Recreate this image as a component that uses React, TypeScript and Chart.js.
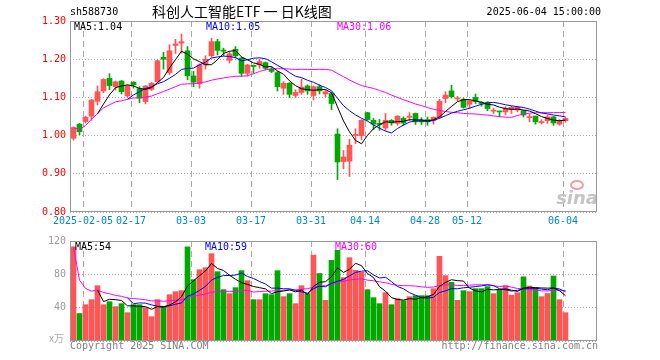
import React, { useEffect, useRef } from 'react';
import { Chart, registerables } from 'chart.js';

Chart.register(...registerables);

const CODE = 'sh588730';
const TITLE = '科创人工智能ETF 一 日K线图';
const TIMESTAMP = '2025-06-04 15:00:00';

const DATES = [
  '2025-01-24', '2025-01-27',
  '2025-02-05', '2025-02-06', '2025-02-07', '2025-02-10', '2025-02-11', '2025-02-12', '2025-02-13', '2025-02-14',
  '2025-02-17', '2025-02-18', '2025-02-19', '2025-02-20', '2025-02-21', '2025-02-24', '2025-02-25', '2025-02-26', '2025-02-27', '2025-02-28',
  '2025-03-03', '2025-03-04', '2025-03-05', '2025-03-06', '2025-03-07', '2025-03-10', '2025-03-11', '2025-03-12', '2025-03-13', '2025-03-14',
  '2025-03-17', '2025-03-18', '2025-03-19', '2025-03-20', '2025-03-21', '2025-03-24', '2025-03-25', '2025-03-26', '2025-03-27', '2025-03-28',
  '2025-03-31', '2025-04-01', '2025-04-02', '2025-04-03', '2025-04-07', '2025-04-08', '2025-04-09', '2025-04-10', '2025-04-11',
  '2025-04-14', '2025-04-15', '2025-04-16', '2025-04-17', '2025-04-18', '2025-04-21', '2025-04-22', '2025-04-23', '2025-04-24', '2025-04-25',
  '2025-04-28', '2025-04-29', '2025-04-30', '2025-05-06', '2025-05-07', '2025-05-08', '2025-05-09',
  '2025-05-12', '2025-05-13', '2025-05-14', '2025-05-15', '2025-05-16', '2025-05-19', '2025-05-20', '2025-05-21', '2025-05-22', '2025-05-23',
  '2025-05-26', '2025-05-27', '2025-05-28', '2025-05-29', '2025-05-30', '2025-06-03', '2025-06-04',
];

const OPEN = [
  0.993, 1.030, 1.037, 1.051, 1.090, 1.117, 1.150, 1.128, 1.143, 1.104,
  1.140, 1.123, 1.089, 1.121, 1.141, 1.205, 1.165, 1.236, 1.242, 1.222,
  1.156, 1.136, 1.185, 1.209, 1.246, 1.224, 1.197, 1.226, 1.203, 1.163,
  1.184, 1.185, 1.191, 1.174, 1.165, 1.124, 1.137, 1.105, 1.113, 1.130,
  1.105, 1.128, 1.109, 1.110, 1.004, 0.932, 0.933, 1.000, 1.000, 1.060,
  1.040, 1.032, 1.020, 1.040, 1.032, 1.045, 1.048, 1.058, 1.040, 1.042,
  1.040, 1.049, 1.097, 1.117, 1.096, 1.095, 1.082, 1.100, 1.087, 1.087,
  1.064, 1.064, 1.062, 1.068, 1.067, 1.065, 1.047, 1.051, 1.034, 1.039,
  1.049, 1.030, 1.039,
];
const HIGH = [
  1.023, 1.032, 1.051, 1.095, 1.130, 1.149, 1.162, 1.143, 1.144, 1.133,
  1.141, 1.128, 1.131, 1.139, 1.197, 1.218, 1.238, 1.252, 1.266, 1.233,
  1.168, 1.188, 1.209, 1.255, 1.252, 1.229, 1.220, 1.233, 1.205, 1.187,
  1.185, 1.200, 1.193, 1.179, 1.168, 1.141, 1.139, 1.120, 1.148, 1.133,
  1.130, 1.133, 1.119, 1.113, 1.018, 0.961, 0.990, 1.018, 1.042, 1.061,
  1.045, 1.042, 1.058, 1.042, 1.052, 1.049, 1.060, 1.059, 1.047, 1.049,
  1.049, 1.095, 1.115, 1.132, 1.103, 1.098, 1.093, 1.109, 1.089, 1.089,
  1.071, 1.064, 1.076, 1.077, 1.077, 1.066, 1.056, 1.051, 1.042, 1.054,
  1.050, 1.042, 1.047,
];
const LOW = [
  0.988, 1.002, 1.033, 1.040, 1.080, 1.112, 1.120, 1.119, 1.109, 1.101,
  1.124, 1.086, 1.083, 1.118, 1.140, 1.174, 1.160, 1.215, 1.216, 1.146,
  1.128, 1.124, 1.174, 1.205, 1.211, 1.209, 1.190, 1.203, 1.155, 1.156,
  1.163, 1.176, 1.172, 1.165, 1.117, 1.108, 1.099, 1.099, 1.108, 1.108,
  1.093, 1.109, 1.102, 1.068, 0.885, 0.913, 0.893, 0.979, 0.989, 1.040,
  1.016, 1.014, 1.014, 1.027, 1.027, 1.027, 1.039, 1.029, 1.029, 1.027,
  1.030, 1.045, 1.086, 1.098, 1.091, 1.072, 1.071, 1.084, 1.077, 1.065,
  1.058, 1.049, 1.055, 1.058, 1.062, 1.049, 1.036, 1.030, 1.030, 1.032,
  1.027, 1.027, 1.035,
];
const CLOSE = [
  1.021, 1.010, 1.048, 1.093, 1.115, 1.147, 1.131, 1.141, 1.115, 1.130,
  1.133, 1.098, 1.130, 1.137, 1.196, 1.200, 1.222, 1.240, 1.246, 1.157,
  1.140, 1.185, 1.200, 1.246, 1.223, 1.221, 1.214, 1.209, 1.163, 1.185,
  1.181, 1.194, 1.176, 1.168, 1.128, 1.137, 1.108, 1.113, 1.127, 1.117,
  1.128, 1.117, 1.115, 1.084, 0.931, 0.944, 0.975, 1.003, 1.040, 1.042,
  1.030, 1.029, 1.040, 1.033, 1.051, 1.033, 1.051, 1.036, 1.036, 1.036,
  1.048, 1.090, 1.106, 1.102, 1.098, 1.074, 1.091, 1.089, 1.084, 1.071,
  1.066, 1.062, 1.071, 1.074, 1.074, 1.054, 1.049, 1.036, 1.036, 1.049,
  1.033, 1.040, 1.045,
];
// volume, unit: 万
const VOLUME = [
  113, 33, 43.6, 49.6, 66.4, 43.6, 47.2, 41.2, 44.8, 34,
  43.6, 43.6, 40, 29.2, 49.6, 41.2, 55.6, 59.2, 60.4, 113,
  73.6, 85.6, 88, 104.8, 83.2, 61.6, 56.8, 64, 84.4, 72.4,
  49.6, 49.6, 56.8, 55.6, 84.4, 53.2, 56.8, 44.8, 66.4, 56.8,
  103, 81, 48.8, 96.8, 108.8, 76, 100, 84.8, 82.4, 61.6,
  52, 44.8, 58, 43.6, 50.8, 48.4, 53.2, 54.4, 54.4, 54.4,
  62.8, 101.6, 78.4, 70.4, 48.8, 60.4, 59.2, 62.8, 62.8, 65.2,
  56.8, 61.6, 66.4, 55, 58, 77, 66, 64, 53.2, 57,
  78, 49.6, 34,
];

const X_TICK_DATES = ['2025-02-05', '2025-02-17', '2025-03-03', '2025-03-17', '2025-03-31', '2025-04-14', '2025-04-28', '2025-05-12', '2025-06-04'];
const X_TICK_LABELS = ['2025-02-05', '02-17', '03-03', '03-17', '03-31', '04-14', '04-28', '05-12', '06-04'];
const PRICE_TICKS = [1.3, 1.2, 1.1, 1.0, 0.9, 0.8];
const VOLUME_TICKS = [120, 80, 40];
const VOLUME_UNIT = 'x万';
const COPYRIGHT = 'Copyright 2025 SINA.COM';
const URL_TEXT = 'http://finance.sina.com.cn';

// ---- styles / layout ----
const RED = '#ff5555';
const GREEN = '#00a800';
const MA5_C = '#000000';
const MA10_C = '#0000ff';
const MA30_C = '#ff00ff';
const GRID_C = '#aaaaaa';
const FRAME_C = '#999999';
const MONO = '"DejaVu Sans Mono", "Liberation Mono", monospace';
const CJK = '"Noto Sans CJK SC", "Noto Sans", sans-serif';
const PLOT_L = 70;
const PLOT_R = 597;
const SLOT = 6;
const X_MIN = -3.5 / SLOT;
const X_MAX = X_MIN + (PLOT_R - PLOT_L) / SLOT;
const GRID_SHIFT = 2.5 / SLOT;

function movingAverage(values: number[], n: number, partial: boolean): (number | null)[] {
  return values.map((_, i) => {
    if (i < n - 1 && !partial) return null;
    const start = Math.max(0, i - n + 1);
    let s = 0;
    for (let k = start; k <= i; k++) s += values[k];
    return s / (i - start + 1);
  });
}
const toPoints = (arr: (number | null)[]) =>
  arr.map((y, x) => (y == null ? null : { x, y })).filter((p) => p !== null) as { x: number; y: number }[];

const candleColors = CLOSE.map((c, i) => (c >= OPEN[i] ? RED : GREEN));
const tickIndices = X_TICK_DATES.map((d) => DATES.indexOf(d));

function xScale(height: number) {
  return {
    type: 'linear' as const,
    min: X_MIN,
    max: X_MAX,
    offset: false,
    ticks: { display: false },
    grid: { color: GRID_C, lineWidth: 1, drawTicks: false, offset: false },
    border: { display: false, dash: [6, 4] },
    afterBuildTicks: (s: any) => {
      s.ticks = tickIndices.map((v) => ({ value: v - GRID_SHIFT }));
    },
    afterFit: (s: any) => {
      s.height = height;
      s.paddingLeft = 0;
      s.paddingRight = 0;
    },
  };
}
function yScale(min: number, max: number, step: number) {
  return {
    type: 'linear' as const,
    min,
    max,
    ticks: { display: false, stepSize: step },
    grid: { color: GRID_C, lineWidth: 1, drawTicks: false },
    border: { display: false, dash: [1, 2] },
    afterFit: (s: any) => {
      s.width = PLOT_L;
      s.paddingTop = 0;
      s.paddingBottom = 0;
    },
  };
}
function lineDs(data: (number | null)[], color: string, order: number) {
  return {
    type: 'line' as const,
    data: toPoints(data),
    borderColor: color,
    borderWidth: 1,
    pointRadius: 0,
    tension: 0,
    order,
  };
}
function frame(ctx: CanvasRenderingContext2D, a: any) {
  ctx.strokeStyle = FRAME_C;
  ctx.lineWidth = 1;
  ctx.setLineDash([]);
  ctx.strokeRect(a.left + 0.5, a.top + 0.5, a.right - a.left - 1, a.bottom - a.top - 1);
}

export default function App() {
  const priceRef = useRef<HTMLCanvasElement>(null);
  const volRef = useRef<HTMLCanvasElement>(null);

  useEffect(() => {
    const ma5 = movingAverage(CLOSE, 5, false);
    const ma10 = movingAverage(CLOSE, 10, false);
    const ma30 = movingAverage(CLOSE, 30, true);
    const vma5 = movingAverage(VOLUME, 5, false);
    const vma10 = movingAverage(VOLUME, 10, false);
    const vma30 = movingAverage(VOLUME, 30, true);
    const last = CLOSE.length - 1;

    const priceText = {
      id: 'priceText',
      beforeDatasetsDraw(chart: any) {
        const { ctx, chartArea: a } = chart;
        ctx.save();
        ctx.strokeStyle = '#f2a0a0';
        ctx.lineWidth = 2;
        ctx.beginPath();
        ctx.ellipse(a.right - 20, a.bottom - 27, 6, 4, 0, 0, Math.PI * 2);
        ctx.stroke();
        ctx.fillStyle = '#c4c4c4';
        ctx.font = 'italic bold 18px "DejaVu Sans", sans-serif';
        ctx.textAlign = 'right';
        ctx.textBaseline = 'alphabetic';
        ctx.fillText('sina', a.right + 1, a.bottom - 8);
        ctx.restore();
      },
      afterDraw(chart: any) {
        const { ctx, chartArea: a, scales } = chart;
        ctx.save();
        frame(ctx, a);
        ctx.textBaseline = 'middle';
        ctx.font = `10px ${MONO}`;
        ctx.fillStyle = '#ff0000';
        ctx.textAlign = 'right';
        PRICE_TICKS.forEach((v) => ctx.fillText(v.toFixed(2), 66, scales.y.getPixelForValue(v)));
        ctx.fillStyle = '#0088cc';
        ctx.textAlign = 'center';
        tickIndices.forEach((idx, k) =>
          ctx.fillText(X_TICK_LABELS[k], scales.x.getPixelForValue(idx - GRID_SHIFT), 221)
        );
        ctx.textAlign = 'left';
        ctx.fillStyle = '#000';
        ctx.fillText(CODE, 70, 12);
        ctx.textAlign = 'right';
        ctx.fillText(TIMESTAMP, 601, 12);
        ctx.textAlign = 'left';
        ctx.font = `14px ${CJK}`;
        ctx.fillText(TITLE, 152, 12);
        ctx.font = `10px ${MONO}`;
        ctx.fillStyle = MA5_C;
        ctx.fillText(`MA5:${(ma5[last] as number).toFixed(2)}`, 74, 27);
        ctx.fillStyle = MA10_C;
        ctx.fillText(`MA10:${(ma10[last] as number).toFixed(2)}`, 206, 27);
        ctx.fillStyle = MA30_C;
        ctx.fillText(`MA30:${(ma30[last] as number).toFixed(2)}`, 337, 27);
        ctx.restore();
      },
    };

    const volText = {
      id: 'volText',
      afterDraw(chart: any) {
        const { ctx, chartArea: a, scales } = chart;
        ctx.save();
        frame(ctx, a);
        ctx.textBaseline = 'middle';
        ctx.font = `10px ${MONO}`;
        ctx.fillStyle = '#999';
        ctx.textAlign = 'right';
        VOLUME_TICKS.forEach((v) => ctx.fillText(String(v), 66, scales.y.getPixelForValue(v)));
        ctx.fillStyle = '#aaa';
        ctx.font = `10px ${CJK}`;
        ctx.fillText(VOLUME_UNIT, 64, 106);
        ctx.font = `10px ${MONO}`;
        ctx.textAlign = 'left';
        ctx.fillStyle = MA5_C;
        ctx.fillText(`MA5:${Math.round(vma5[last] as number)}`, 75, 15);
        ctx.fillStyle = MA10_C;
        ctx.fillText(`MA10:${Math.round(vma10[last] as number)}`, 205, 15);
        ctx.fillStyle = MA30_C;
        ctx.fillText(`MA30:${Math.round(vma30[last] as number)}`, 335, 15);
        ctx.fillStyle = '#808080';
        ctx.fillText(COPYRIGHT, 70, 114);
        ctx.textAlign = 'right';
        ctx.fillText(URL_TEXT, 598, 114);
        ctx.restore();
      },
    };

    const common = {
      responsive: false,
      maintainAspectRatio: false,
      animation: false as const,
      events: [] as any[],
      plugins: { legend: { display: false }, tooltip: { enabled: false } },
    };

    const priceChart = new Chart(priceRef.current as HTMLCanvasElement, {
      type: 'bar',
      data: {
        datasets: [
          {
            type: 'bar',
            data: LOW.map((l, i) => ({ x: i, y: [l, HIGH[i]] })) as any,
            backgroundColor: candleColors,
            barThickness: 1,
            grouped: false,
            borderWidth: 0,
            order: 4,
          },
          {
            type: 'bar',
            data: OPEN.map((o, i) => ({ x: i, y: [Math.min(o, CLOSE[i]), Math.max(o, CLOSE[i])] })) as any,
            backgroundColor: candleColors,
            barThickness: 5,
            grouped: false,
            borderWidth: 0,
            minBarLength: 1,
            order: 3,
          },
          lineDs(ma30, MA30_C, 2) as any,
          lineDs(ma10, MA10_C, 1) as any,
          lineDs(ma5, MA5_C, 0) as any,
        ],
      },
      options: {
        ...common,
        layout: { padding: { left: 0, right: 660 - PLOT_R, top: 21, bottom: 0 } },
        scales: { x: xScale(20) as any, y: yScale(0.8, 1.3, 0.1) as any },
      },
      plugins: [priceText],
    });

    const volChart = new Chart(volRef.current as HTMLCanvasElement, {
      type: 'bar',
      data: {
        datasets: [
          {
            type: 'bar',
            data: VOLUME.map((v, i) => ({ x: i, y: v })) as any,
            backgroundColor: candleColors,
            barThickness: 5,
            grouped: false,
            borderWidth: 0,
            order: 3,
          },
          lineDs(vma30, MA30_C, 2) as any,
          lineDs(vma10, MA10_C, 1) as any,
          lineDs(vma5, MA5_C, 0) as any,
        ],
      },
      options: {
        ...common,
        layout: { padding: { left: 0, right: 660 - PLOT_R, top: 9, bottom: 0 } },
        scales: { x: xScale(19) as any, y: yScale(0, 120, 40) as any },
      },
      plugins: [volText],
    });

    return () => {
      priceChart.destroy();
      volChart.destroy();
    };
  }, []);

  return (
    <div style={{ position: 'absolute', left: 0, top: 0, width: 660, height: 360, background: '#fff' }}>
      <canvas ref={priceRef} width={660} height={232} style={{ display: 'block' }} />
      <canvas ref={volRef} width={660} height={128} style={{ display: 'block' }} />
    </div>
  );
}
